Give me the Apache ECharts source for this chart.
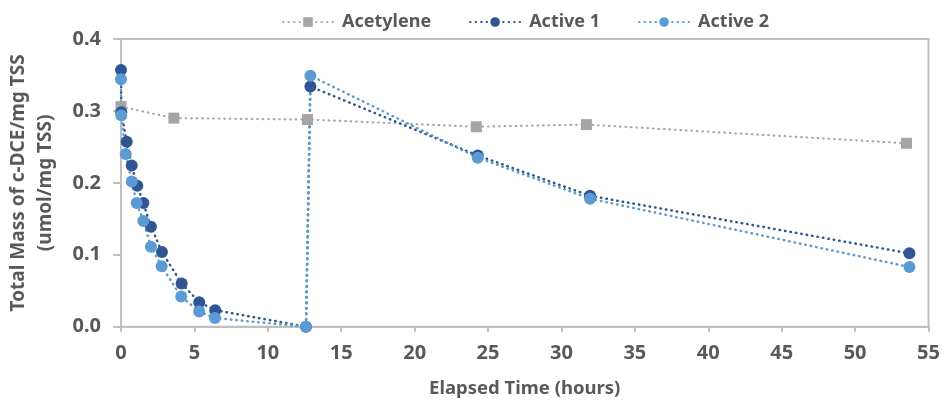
<!DOCTYPE html>
<html>
<head>
<meta charset="utf-8">
<script src="https://cdn.jsdelivr.net/npm/echarts@6/dist/echarts.min.js"></script>
<style>
  html, body { margin: 0; padding: 0; background: #fff; }
  #chart { width: 945px; height: 403px; }
</style>
</head>
<body>
<div id="chart"></div>
<script>
// Elapsed time (hours) and c-DCE mass (umol/mg TSS) per condition
const acetyleneTime = [0, 3.6, 12.7, 24.2, 31.7, 53.5];
const acetyleneMass = [0.306, 0.290, 0.288, 0.278, 0.281, 0.255];

const active1Time = [0, 0.02, 0.39, 0.73, 1.11, 1.52, 2.04, 2.79, 4.13, 5.33, 6.42, 12.6, 12.9, 24.3, 31.95, 53.7];
const active1Mass = [0.357, 0.298, 0.257, 0.224, 0.196, 0.172, 0.139, 0.104, 0.060, 0.034, 0.023, 0.0, 0.334, 0.238, 0.182, 0.102];

const active2Time = [0, 0.02, 0.32, 0.73, 1.07, 1.52, 2.04, 2.77, 4.1, 5.33, 6.4, 12.6, 12.9, 24.3, 31.95, 53.7];
const active2Mass = [0.344, 0.294, 0.240, 0.202, 0.172, 0.147, 0.111, 0.084, 0.042, 0.021, 0.012, 0.0, 0.349, 0.235, 0.178, 0.083];

const xTicks = { min: 0, max: 55, step: 5 };
const yTicks = { min: 0, max: 0.4, step: 0.1 };

const FONT = '"Noto Sans", "Open Sans", sans-serif';
const TEXT = '#595959';
const AXIS = '#BFBFBF';

const pair = (xs, ys) => xs.map((x, i) => [x, ys[i]]);
const dotted = (color, width) => ({ color, width, type: [0.5, 5], cap: 'round' });

const chart = echarts.init(document.getElementById('chart'), null, { renderer: 'canvas' });
chart.setOption({
  animation: false,
  backgroundColor: '#fff',
  textStyle: { fontFamily: FONT },
  legend: {
    top: 8,
    left: 277,
    itemWidth: 50,
    itemHeight: 12,
    itemGap: 38,
    textStyle: { fontFamily: FONT, fontSize: 18, fontWeight: 'bold', color: TEXT, padding: [0, 0, 0, 4] },
    data: ['Acetylene', 'Active 1', 'Active 2']
  },
  grid: {
    left: 121, right: 16.5, top: 39, bottom: 76.3,
    outerBoundsMode: 'none',
    containLabel: false,
    show: true, borderColor: AXIS, borderWidth: 2
  },
  xAxis: {
    type: 'value',
    min: xTicks.min, max: xTicks.max, interval: xTicks.step,
    name: 'Elapsed Time (hours)',
    nameLocation: 'middle',
    nameGap: 53,
    nameTextStyle: { fontFamily: FONT, fontSize: 18.5, fontWeight: 'bold', color: TEXT },
    axisLine: { lineStyle: { color: AXIS, width: 2 } },
    axisTick: { show: true, length: 5, lineStyle: { color: AXIS, width: 2 } },
    axisLabel: { margin: 17, fontFamily: FONT, fontSize: 20, fontWeight: 'bold', color: TEXT },
    splitLine: { show: false }
  },
  yAxis: {
    type: 'value',
    min: yTicks.min, max: yTicks.max, interval: yTicks.step,
    name: 'Total Mass of c-DCE/mg TSS\n(umol/mg TSS)',
    nameLocation: 'middle',
    nameGap: 62,
    nameTextStyle: { fontFamily: FONT, fontSize: 19, fontWeight: 'bold', color: TEXT, lineHeight: 27 },
    axisLine: { show: true, lineStyle: { color: AXIS, width: 2 } },
    axisTick: { show: true, length: 8, lineStyle: { color: AXIS, width: 2 } },
    axisLabel: { margin: 20, fontFamily: FONT, fontSize: 20, fontWeight: 'bold', color: TEXT,
      formatter: v => v.toFixed(1) },
    splitLine: { show: false }
  },
  series: [
    {
      name: 'Acetylene', type: 'line',
      data: pair(acetyleneTime, acetyleneMass),
      symbol: 'rect', symbolSize: 11,
      itemStyle: { color: '#A5A5A5' },
      lineStyle: dotted('#A5A5A5', 2.2)
    },
    {
      name: 'Active 1', type: 'line',
      data: pair(active1Time, active1Mass),
      symbol: 'circle', symbolSize: 12,
      itemStyle: { color: '#2F5597' },
      lineStyle: dotted('#2F5597', 2.5)
    },
    {
      name: 'Active 2', type: 'line',
      data: pair(active2Time, active2Mass),
      symbol: 'circle', symbolSize: 12,
      itemStyle: { color: '#5B9BD5' },
      lineStyle: dotted('#5B9BD5', 2.5)
    }
  ]
});
</script>
</body>
</html>
